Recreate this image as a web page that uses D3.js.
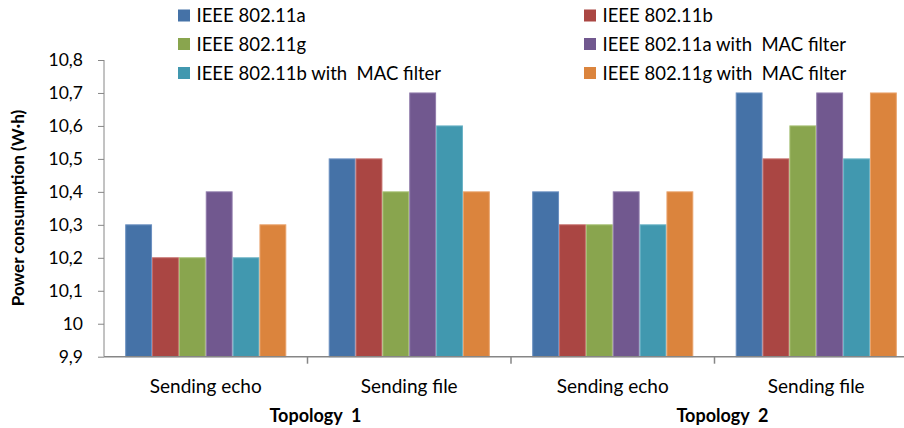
<!DOCTYPE html>
<html><head><meta charset="utf-8">
<script src="https://cdn.jsdelivr.net/npm/d3@7"></script>
<style>body{margin:0;background:#fff}svg{display:block}text{font-family:Lato,"Open Sans",sans-serif;fill:#000}</style>
</head><body>
<svg id="c" width="904" height="428"></svg>
<script>
const categories = ["Sending echo","Sending file","Sending echo","Sending file"];
const groups = ["Topology  1","Topology  2"];
const seriesNames = ["IEEE 802.11a","IEEE 802.11b","IEEE 802.11g","IEEE 802.11a with  MAC filter","IEEE 802.11b with  MAC filter","IEEE 802.11g with  MAC filter"];
const s80211a    = [10.3, 10.5, 10.4, 10.7];
const s80211b    = [10.2, 10.5, 10.3, 10.5];
const s80211g    = [10.2, 10.4, 10.3, 10.6];
const s80211aMAC = [10.4, 10.7, 10.4, 10.7];
const s80211bMAC = [10.2, 10.6, 10.3, 10.5];
const s80211gMAC = [10.3, 10.4, 10.4, 10.7];
const yTickValues = [9.9,10.0,10.1,10.2,10.3,10.4,10.5,10.6,10.7,10.8];
const yTickLabels = ["9,9","10","10,1","10,2","10,3","10,4","10,5","10,6","10,7","10,8"];
const colors = ["#4572A7","#AA4643","#89A54E","#71588F","#4198AF","#DB843D"];
const strokes = ["#6a8fc0","#c46b68","#a5bf72","#8f7aab","#6bb3c6","#e9a26a"];

const series = [s80211a,s80211b,s80211g,s80211aMAC,s80211bMAC,s80211gMAC];
const svg = d3.select("#c");
const x0 = 104, bandW = 203.5;
const x = d3.scaleBand().domain(d3.range(categories.length)).range([x0, x0 + bandW*categories.length]).padding(0);
const pad = 21.2;
const xs = d3.scaleBand().domain(d3.range(series.length)).range([pad, bandW - pad]).padding(0);
const y = d3.scaleLinear().domain([9.9, 10.8]).range([356.7, 60]);
const axisColor = "#868686";

// bars
series.forEach((vals, si) => {
  svg.append("g").selectAll("rect").data(vals).join("rect")
    .attr("x", (d,i) => x(i) + xs(si) + 0.5)
    .attr("y", d => y(d))
    .attr("width", xs.bandwidth() - 1)
    .attr("height", d => y(9.9) - y(d))
    .attr("fill", colors[si])
    .attr("stroke", strokes[si]).attr("stroke-width", 1);
});

// y axis
const yAxis = d3.axisLeft(y).tickValues(yTickValues).tickSize(6).tickPadding(15)
  .tickFormat((d,i) => yTickLabels[i]);
const gy = svg.append("g").attr("transform", `translate(${x0},0)`).call(yAxis);
gy.select(".domain").attr("stroke", axisColor).attr("d", `M0,${y(10.8)}V${y(9.9)}`);
gy.selectAll(".tick line").attr("stroke", axisColor);
gy.selectAll(".tick text").style("font-family","Lato,sans-serif").style("font-size","17.5px").attr("fill","#000");

// x axis
const bounds = d3.range(categories.length + 1).map(i => x0 + i*bandW);
svg.append("line").attr("x1", x0).attr("x2", bounds[bounds.length-1]).attr("y1", y(9.9)).attr("y2", y(9.9))
  .attr("stroke", axisColor).attr("stroke-width", 1.5);
svg.append("g").selectAll("line").data(bounds.slice(1)).join("line")
  .attr("x1", d=>d).attr("x2", d=>d).attr("y1", y(9.9)).attr("y2", y(9.9)+7)
  .attr("stroke", axisColor).attr("stroke-width", 1.5);

svg.append("g").selectAll("text").data(categories).join("text")
  .attr("x", (d,i) => x(i) + bandW/2).attr("y", 393)
  .attr("text-anchor","middle").style("font-size","19px").text(d=>d);

svg.append("g").selectAll("text").data(groups).join("text")
  .attr("x", (d,i) => x0 + bandW*(2*i+1) + 8).attr("y", 422)
  .attr("text-anchor","middle").attr("xml:space","preserve").style("font-size","18px").style("font-weight","bold").text(d=>d);

// y title
svg.append("text").attr("transform", `translate(24,208) rotate(-90)`)
  .attr("text-anchor","middle").style("font-size","17px").style("font-weight","bold")
  .text("Power consumption (W·h)");

// legend
const legX = [178, 584], legY = [15.5, 44, 73];
seriesNames.forEach((name, i) => {
  const cx = legX[i % 2], cy = legY[Math.floor(i/2)];
  svg.append("rect").attr("x", cx).attr("y", cy - 6).attr("width", 12).attr("height", 12).attr("fill", colors[i]);
  svg.append("text").attr("x", cx + 18.5).attr("y", cy + 6.5).style("font-size","18.5px").attr("xml:space","preserve").text(name);
});
</script>
</body></html>
